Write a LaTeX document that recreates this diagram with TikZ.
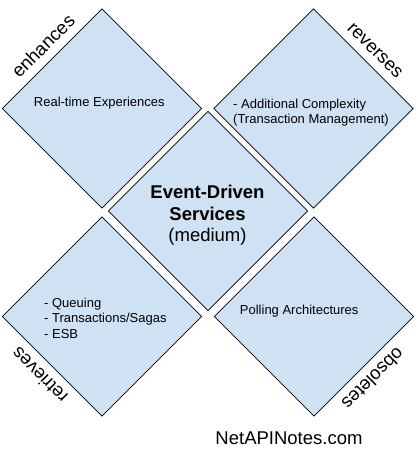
\documentclass[tikz,border=0pt]{standalone}
\usepackage{fontspec}
\setmainfont{Liberation Sans}
\usetikzlibrary{shapes.geometric}
\definecolor{tetfill}{HTML}{CFE2F3}
\begin{document}
\begin{tikzpicture}[x=1pt,y=-1pt,
  quad/.style={diamond, aspect=1, minimum size=199.5pt, inner sep=0pt, draw=black, line width=0.8pt, fill=tetfill},
  small/.style={font=\fontsize{13}{15.5}\selectfont, inner sep=0pt},
  big/.style={font=\fontsize{18.5}{22}\selectfont, inner sep=0pt},
  edgelabel/.style={font=\fontsize{18.5}{22}\selectfont, inner sep=0pt, anchor=base}]
\useasboundingbox (0,0) rectangle (418,456);
% diamonds
\node[quad] (tl) at (102,108.5) {};
\node[quad] (tr) at (313.5,108.5) {};
\node[quad] (bl) at (102,316.5) {};
\node[quad] (br) at (314,316.5) {};
\node[quad] (c) at (208,211) {};
% top-left content
\node[small, anchor=base] (tltext) at (99.3,106.7) {Real-time Experiences};
% top-right content
\node[small, anchor=base west] (tr1) at (233,108.3) {- Additional Complexity};
\node[small, anchor=base west] (tr2) at (233,123.3) {(Transaction Management)};
% bottom-left content
\node[small, anchor=base west] (bl1) at (44,307.3) {- Queuing};
\node[small, anchor=base west] (bl2) at (44,322.8) {- Transactions/Sagas};
\node[small, anchor=base west] (bl3) at (44,338.3) {- ESB};
% bottom-right content
\node[small, anchor=base] (brtext) at (299.2,314) {Polling Architectures};
% centre content
\node[big, anchor=base, font=\fontsize{18.5}{22}\selectfont\bfseries] (c1) at (207.5,198.5) {Event-Driven};
\node[big, anchor=base, font=\fontsize{18.5}{22}\selectfont\bfseries] (c2) at (207.5,220) {Services};
\node[big, anchor=base] (c3) at (207.5,241.7) {(medium)};
% edge labels
\node[edgelabel, rotate=45] (enh) at (47.7,50.6) {enhances};
\node[edgelabel, rotate=-45] (rev) at (371.4,54.1) {reverses};
\node[edgelabel, rotate=135] (ret) at (44.1,370.8) {retrieves};
\node[edgelabel, rotate=-135] (obs) at (368.6,374.4) {obsoletes};
% footer
\node[big, anchor=base] (site) at (289,444) {NetAPINotes.com};
\end{tikzpicture}
\end{document}
